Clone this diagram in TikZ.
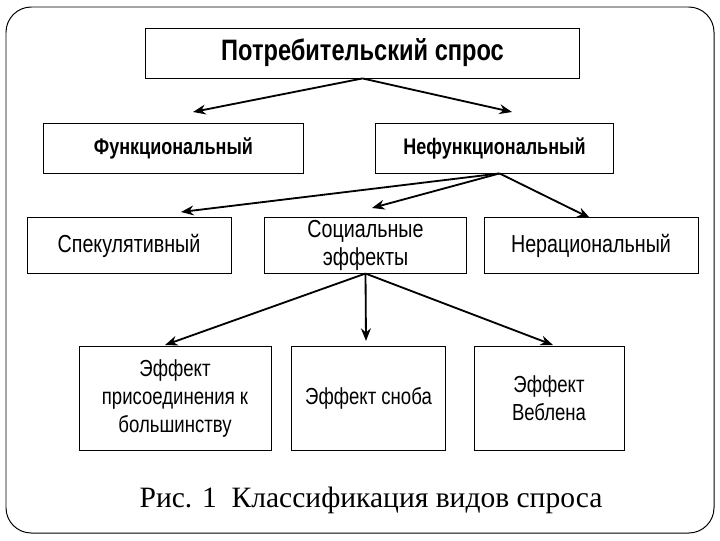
\documentclass[tikz,border=0pt]{standalone}
\usepackage{fontspec}
\setmainfont{Liberation Serif}
\newfontfamily\narrowfont[FakeStretch=0.8]{Liberation Sans}
\usetikzlibrary{arrows.meta}

\begin{document}
\begin{tikzpicture}[
    x=0.025cm, y=-0.025cm,
    box/.style={rectangle, draw=black, line width=0.6pt, inner sep=0pt, align=center,
        font=\narrowfont\fontsize{16.5}{20}\selectfont},
    midbox/.style={box, font=\narrowfont\fontsize{17.5}{20}\selectfont},
    headbox/.style={box, font=\narrowfont\bfseries\fontsize{16}{20}\selectfont},
    link/.style={line width=1.3pt, -{Stealth[length=9pt, width=7pt]}}
]
\useasboundingbox (0,0) rectangle (720,540);
\draw[rounded corners=18pt, line width=0.7pt] (6,7) rectangle (714,533);

\node[headbox, minimum width=10.83cm, minimum height=1.25cm, font=\narrowfont\bfseries\fontsize{21}{24}\selectfont](demand) at (362.5, 53) {Потребительский спрос};

\node[headbox, minimum width=6.48cm, minimum height=1.25cm](func) at (173.5, 148) {Функциональный};
\node[headbox, minimum width=5.93cm, minimum height=1.25cm](nonfunc) at (494.5, 148) {Нефункциональный};

\node[midbox, minimum width=5.1cm, minimum height=1.38cm](spec) at (129, 245.5) {Спекулятивный};
\node[midbox, minimum width=5.03cm, minimum height=1.38cm](social) at (365.5, 245.5) {Социальные\\эффекты};
\node[midbox, minimum width=5.35cm, minimum height=1.38cm](irrat) at (591, 245.5) {Нерациональный};

\node[box, minimum width=4.8cm, minimum height=2.58cm](band) at (175, 398.5) {Эффект\\присоединения к\\большинству};
\node[box, minimum width=3.83cm, minimum height=2.58cm](snob) at (368.5, 398.5) {Эффект сноба};
\node[box, minimum width=3.75cm, minimum height=2.58cm](veblen) at (549, 398.5) {Эффект\\Веблена};

\coordinate (c1) at (193, 112);
\coordinate (c2) at (512, 112);
\coordinate (c3) at (181, 212);
\coordinate (c4) at (372, 208);
\coordinate (c5) at (590, 218);
\coordinate (c6) at (165, 345);
\coordinate (c7) at (366, 341);
\coordinate (c8) at (553, 345);

\draw[link] (demand.south) -- (c1);
\draw[link] (demand.south) -- (c2);
\draw[link] (nonfunc.south) ++(5,0) -- (c3);
\draw[link] (nonfunc.south) ++(5,0) -- (c4);
\draw[link] (nonfunc.south) ++(5,0) -- (c5);
\draw[link] (social.south) -- (c6);
\draw[link] (social.south) -- (c7);
\draw[link] (social.south) -- (c8);

\node[font=\fontsize{21}{25}\selectfont](caption) at (371, 500) {Рис. 1\ \ Классификация видов спроса};
\end{tikzpicture}
\end{document}
